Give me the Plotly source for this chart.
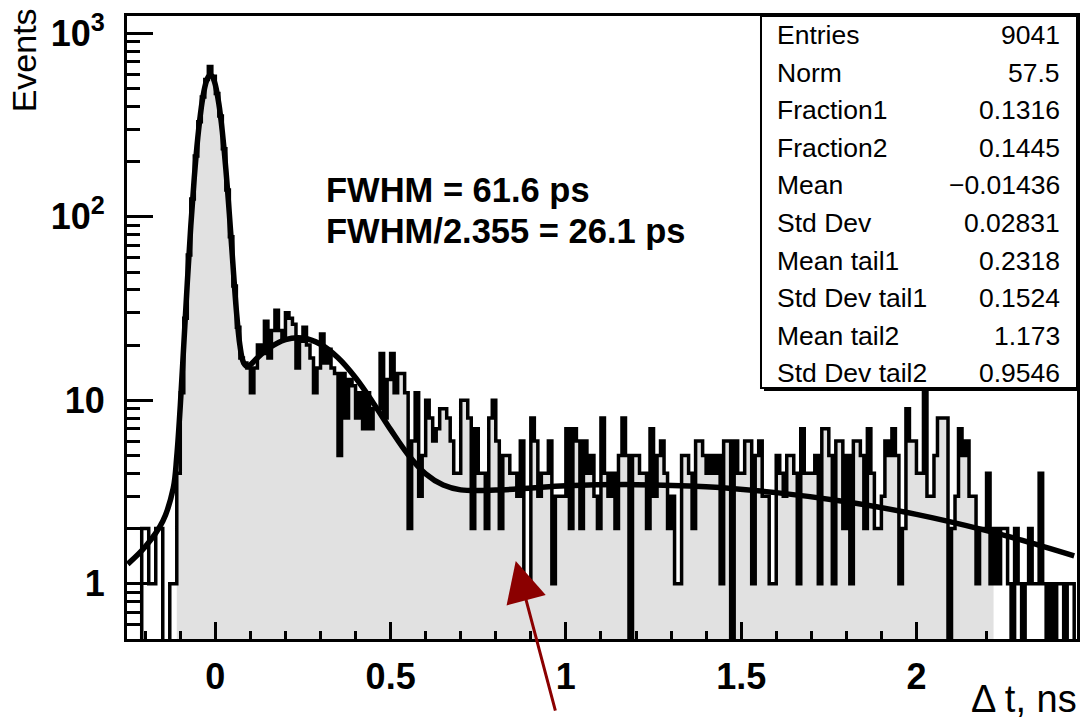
import numpy as np
import plotly.graph_objects as go

# ---------------- data ----------------
BIN_LO = -0.25          # left edge of first bin (ns)
BIN_W = 0.01            # bin width (ns)
counts = [
    0, 0, 0, 0, 2, 2, 1, 1, 2, 2,              # -0.25 .. -0.15
    0, 0, 1, 1, 4, 11, 28, 62, 125, 215,       # -0.15 .. -0.05
    330, 450, 560, 660, 585, 470, 355, 235, 140, 78,  # -0.05 .. 0.05
    42, 25, 17, 16, 15, 11, 15, 20, 18, 27,    # 0.05 .. 0.15
    17, 24, 31, 24, 22, 30, 28, 26, 15, 21,    # 0.15 .. 0.25
    25, 20, 17, 11, 15, 23, 16, 19, 15, 14,    # 0.25 .. 0.35
    5, 14, 8, 13, 12, 8, 11, 7, 11, 7,         # 0.35 .. 0.45
    9, 9, 18, 8, 13, 18, 11, 14, 14, 11,       # 0.45 .. 0.55
    2, 6, 11, 3, 5, 10, 8, 6, 7, 9,            # 0.55 .. 0.65
    9, 8, 6, 4, 4, 10, 10, 8, 2, 7,            # 0.65 .. 0.75
    4, 4, 2, 8, 10, 6, 2, 5, 5, 4,             # 0.75 .. 0.85
    4, 3, 6, 1, 1, 8, 6, 3, 4, 4,              # 0.85 .. 0.95
    6, 1, 3, 3, 3, 7, 2, 7, 6, 2,              # 0.95 .. 1.05
    6, 4, 5, 3, 2, 8, 4, 3, 4, 2,              # 1.05 .. 1.15
    5, 8, 5, 0, 5, 5, 4, 4, 2, 7,              # 1.15 .. 1.25
    3, 5, 6, 4, 2, 3, 1, 1, 5, 5,              # 1.25 .. 1.35
    4, 2, 6, 6, 5, 4, 5, 4, 5, 1,              # 1.35 .. 1.45
    6, 6, 0, 6, 4, 4, 6, 6, 1, 5,              # 1.45 .. 1.55
    6, 3, 3, 1, 1, 5, 4, 3, 5, 5,              # 1.55 .. 1.65
    4, 1, 7, 4, 4, 4, 5, 1, 7, 7,              # 1.65 .. 1.75
    5, 1, 6, 6, 2, 5, 1, 6, 6, 5,              # 1.75 .. 1.85
    2, 7, 4, 2, 2, 3, 6, 5, 7, 5,              # 1.85 .. 1.95
    1, 2, 9, 6, 6, 4, 4, 13, 3, 3,             # 1.95 .. 2.05
    5, 8, 8, 8, 0, 2, 3, 7, 5, 6,              # 2.05 .. 2.15
    3, 3, 1, 2, 2, 4, 1, 2, 1, 2,              # 2.15 .. 2.25
    2, 1, 0, 2, 1, 0, 1, 2, 1, 1,              # 2.25 .. 2.35
    4, 1, 0, 1, 0, 1, 1, 0, 1, 1,              # 2.35 .. 2.45
]

# fitted curve
fit_x = [-0.25, -0.2, -0.15, -0.12, -0.11, -0.1, -0.09, -0.08, -0.07, -0.06,
         -0.05, -0.04, -0.035, -0.03, -0.025, -0.02, -0.014, -0.01, -0.005, 0.0,
         0.01, 0.015, 0.02, 0.025, 0.03, 0.035, 0.04, 0.045, 0.05, 0.06,
         0.07, 0.08, 0.09, 0.1, 0.12, 0.15, 0.2, 0.25, 0.3, 0.35,
         0.4, 0.45, 0.5, 0.55, 0.6, 0.65, 0.7, 0.8, 0.9, 1.0,
         1.2, 1.4, 1.6, 1.8, 2.0, 2.2, 2.3, 2.45]
fit_y = [1.28, 1.59, 2.19, 3.32, 4.96, 9.33, 20.1, 43.8, 89.3, 164.6,
         270.6, 394.8, 455.5, 509.7, 553.0, 581.6, 593.6, 586.9, 563.0, 523.7,
         413.6, 351.5, 290.1, 232.7, 181.8, 138.6, 103.5, 76.2, 55.7, 30.9,
         19.98, 16.13, 15.33, 15.64, 17.04, 19.11, 21.45, 21.85, 20.21, 17.05,
         13.27, 9.71, 6.92, 5.05, 3.97, 3.45, 3.25, 3.24, 3.33, 3.42,
         3.47, 3.38, 3.14, 2.80, 2.39, 1.95, 1.73, 1.42]

x_tickvals = [0, 0.5, 1, 1.5, 2]
x_ticktext = ["0", "0.5", "1", "1.5", "2"]
x_minor = [-0.2, -0.1, 0.1, 0.2, 0.3, 0.4, 0.6, 0.7, 0.8, 0.9, 1.1, 1.2, 1.3,
           1.4, 1.6, 1.7, 1.8, 1.9, 2.1, 2.2, 2.3, 2.4]
y_tickvals = [1, 10, 100, 1000]
y_ticktext = ["1", "10", "10<sup>2</sup>", "10<sup>3</sup>"]
y_minor = [0.6, 0.7, 0.8, 0.9, 2, 3, 4, 5, 6, 7, 8, 9,
           20, 30, 40, 50, 60, 70, 80, 90, 200, 300, 400, 500, 600, 700, 800, 900]

stat_names = ["Entries", "Norm", "Fraction1", "Fraction2", "Mean", "Std Dev",
              "Mean tail1", "Std Dev tail1", "Mean tail2", "Std Dev tail2"]
stat_values = ["9041", "57.5", "0.1316", "0.1445", "\u22120.01436", "0.02831",
               "0.2318", "0.1524", "1.173", "0.9546"]
fwhm_lines = ["FWHM = 61.6 ps", "FWHM/2.355 = 26.1 ps"]
x_title = "\u0394 t, ns"
y_title = "Events"
arrow_tip = (0.857, 1.33)   # data point the arrow points at

# ---------------- style / layout constants ----------------
W, H = 1086, 724
ML, MR, MT, MB = 127, 6, 16, 85
X_RANGE = [-0.252, 2.458]
Y_RANGE = [np.log10(0.5), 3.095]
FLOOR = 0.05              # value used to draw empty bins down to the bottom
FILL_LO, FILL_HI = -0.11, 2.22
FONT = "Liberation Sans, Arial, Helvetica, sans-serif"
FILL_COLOR = "#e1e1e1"

PW = W - ML - MR
PH = H - MT - MB


def px(xp):
    return (xp - ML) / PW


def py(yp):
    return (H - MB - yp) / PH


# ---------------- histogram geometry from the bins ----------------
n = len(counts)
edges = BIN_LO + BIN_W * np.arange(n + 1)
yv = [c if c > 0 else FLOOR for c in counts]

hx, hy = [edges[0]], [FLOOR]
for i in range(n):
    hx += [edges[i], edges[i + 1]]
    hy += [yv[i], yv[i]]
hx.append(edges[-1])
hy.append(FLOOR)

i0 = int(round((FILL_LO - BIN_LO) / BIN_W))
i1 = int(round((FILL_HI - BIN_LO) / BIN_W))
fx, fy = [edges[i0]], [FLOOR]
for i in range(i0, i1):
    fx += [edges[i], edges[i + 1]]
    fy += [yv[i], yv[i]]
fx += [edges[i1], edges[i0]]
fy += [FLOOR, FLOOR]

fig = go.Figure()
fig.add_trace(go.Scatter(x=fx, y=fy, mode="lines", fill="toself",
                         fillcolor=FILL_COLOR, line=dict(width=0),
                         hoverinfo="skip", showlegend=False))
fig.add_trace(go.Scatter(x=hx, y=hy, mode="lines",
                         line=dict(color="black", width=3.5),
                         hoverinfo="skip", showlegend=False))
fig.add_trace(go.Scatter(x=fit_x, y=fit_y, mode="lines",
                         line=dict(color="black", width=5.5, shape="spline"),
                         showlegend=False))

fig.update_layout(
    width=W, height=H,
    margin=dict(l=ML, r=MR, t=MT, b=MB),
    paper_bgcolor="white", plot_bgcolor="white",
    font=dict(family=FONT, color="black"),
    xaxis=dict(range=X_RANGE, showgrid=False, zeroline=False,
               showline=True, linecolor="black", linewidth=3, mirror=True,
               ticks="inside", ticklen=17, tickwidth=3, tickcolor="black",
               tickvals=x_tickvals, ticktext=x_ticktext,
               tickfont=dict(family=FONT, size=36, color="black", weight="bold"),
               ticklabelstandoff=4,
               minor=dict(tickvals=x_minor, ticks="inside", ticklen=8,
                          tickwidth=3, tickcolor="black", showgrid=False)),
    yaxis=dict(type="log", range=Y_RANGE, showgrid=False, zeroline=False,
               showline=True, linecolor="black", linewidth=3, mirror=True,
               ticks="inside", ticklen=26, tickwidth=3, tickcolor="black",
               tickvals=y_tickvals, ticktext=y_ticktext,
               tickfont=dict(family=FONT, size=36, color="black", weight="bold"),
               ticklabelstandoff=12,
               minor=dict(tickvals=y_minor, ticks="inside", ticklen=13,
                          tickwidth=3, tickcolor="black", showgrid=False)),
)

# stats box (shadow + box)
BX0, BY0, BX1, BY1 = 763, 16, 1080, 388
fig.add_shape(type="rect", xref="paper", yref="paper",
              x0=px(BX0 + 3), x1=px(BX1 + 3), y0=py(BY1 + 3), y1=py(BY0 + 3),
              fillcolor="black", line=dict(width=0), layer="above")
fig.add_shape(type="rect", xref="paper", yref="paper",
              x0=px(BX0), x1=px(BX1), y0=py(BY1), y1=py(BY0),
              fillcolor="white", line=dict(color="black", width=2), layer="above")

annots = []
ROW0, ROWH = 35, 37.6
for k, (nm, val) in enumerate(zip(stat_names, stat_values)):
    yc = ROW0 + ROWH * k
    annots.append(dict(x=px(777), y=py(yc), xref="paper", yref="paper",
                       text=nm, showarrow=False, xanchor="left", yanchor="middle",
                       font=dict(family=FONT, size=26.5, color="black")))
    annots.append(dict(x=px(1065), y=py(yc), xref="paper", yref="paper",
                       text=val, showarrow=False, xanchor="right", yanchor="middle",
                       font=dict(family=FONT, size=26.5, color="black")))

for k, line in enumerate(fwhm_lines):
    annots.append(dict(x=px(325), y=py(190 + 41 * k), xref="paper", yref="paper",
                       text=line, showarrow=False, xanchor="left", yanchor="middle",
                       font=dict(family=FONT, size=34.5, color="black", weight="bold")))

annots.append(dict(x=px(24), y=py(60), xref="paper", yref="paper",
                   text=y_title, showarrow=False, textangle=-90,
                   xanchor="center", yanchor="middle",
                   font=dict(family=FONT, size=34, color="black")))
annots.append(dict(x=px(1082), y=py(699), xref="paper", yref="paper",
                   text=x_title, showarrow=False, xanchor="right", yanchor="middle",
                   font=dict(family=FONT, size=38, color="black")))

# arrow
annots.append(dict(x=arrow_tip[0], y=np.log10(arrow_tip[1]), xref="x", yref="y",
                   ax=40, ay=151, axref="pixel", ayref="pixel",
                   text="", showarrow=True, arrowhead=2, arrowsize=2.7,
                   arrowwidth=3, arrowcolor="#8b0000"))

fig.update_layout(annotations=annots)
fig.write_html("out.html", config={"displayModeBar": False},
               post_script="document.body.style.margin='0';document.body.style.overflow='hidden';")
